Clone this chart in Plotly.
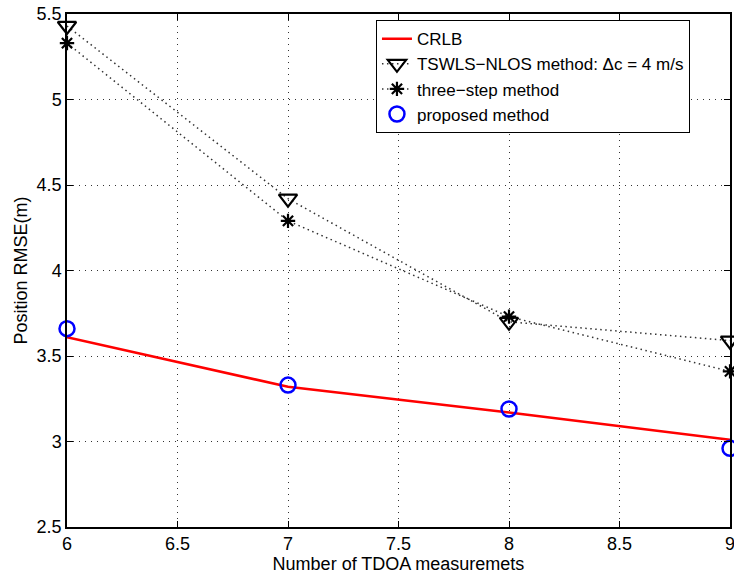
import plotly.graph_objects as go

x_vals = [6, 7, 8, 9]
crlb = [3.61, 3.32, 3.17, 3.01]
tswls = [5.43, 4.42, 3.70, 3.59]
three_step = [5.33, 4.29, 3.73, 3.41]
proposed = [3.66, 3.33, 3.19, 2.96]

x_ticks = [6, 6.5, 7, 7.5, 8, 8.5, 9]
y_ticks = [2.5, 3, 3.5, 4, 4.5, 5, 5.5]

FONT = "Liberation Sans, Arial, Helvetica, sans-serif"
dot_line = dict(color="#333333", width=1.5, dash="1.5px,3.5px")

fig = go.Figure()
fig.add_trace(go.Scatter(x=x_vals, y=crlb, mode="lines", name="CRLB",
                         line=dict(color="red", width=2.5), cliponaxis=False))
fig.add_trace(go.Scatter(x=x_vals, y=tswls, mode="lines+markers",
                         name="TSWLS\u2212NLOS method: \u0394c = 4 m/s",
                         line=dot_line,
                         marker=dict(symbol="triangle-down-open", size=16, color="black",
                                     line=dict(width=2.2, color="black")),
                         cliponaxis=False))
fig.add_trace(go.Scatter(x=x_vals, y=three_step, mode="lines+markers",
                         name="three\u2212step method",
                         line=dot_line,
                         marker=dict(symbol="asterisk-open", size=12, color="black",
                                     line=dict(width=2.2, color="black")),
                         cliponaxis=False))
fig.add_trace(go.Scatter(x=x_vals, y=proposed, mode="markers", name="proposed method",
                         marker=dict(symbol="circle-open", size=15, color="blue",
                                     line=dict(width=2.5, color="blue")),
                         cliponaxis=False))

axis_common = dict(showline=True, linecolor="black", linewidth=1.5, mirror="ticks",
                   ticks="inside", ticklen=6, tickcolor="black", tickwidth=1,
                   showgrid=True, gridcolor="#333333", griddash="1px,5px", gridwidth=1,
                   zeroline=False, automargin=False, ticklabeloverflow="allow",
                   tickfont=dict(size=18, color="black", family=FONT))

fig.update_xaxes(range=[6, 9], tickvals=x_ticks, ticktext=[str(v) for v in x_ticks],
                 ticklabelstandoff=0,
                 title=dict(text="Number of TDOA measuremets", standoff=2,
                            font=dict(size=18, color="black", family=FONT)),
                 **axis_common)
fig.update_yaxes(range=[2.5, 5.5], tickvals=y_ticks, ticktext=[str(v) for v in y_ticks],
                 ticklabelstandoff=0,
                 title=dict(text="Position RMSE(m)", standoff=4,
                            font=dict(size=18, color="black", family=FONT)),
                 **axis_common)

fig.update_layout(
    width=734, height=577,
    margin=dict(l=67, r=4, t=14, b=50),
    plot_bgcolor="white", paper_bgcolor="white",
    font=dict(family=FONT, size=18, color="black"),
    legend=dict(x=0.466, y=0.988, xanchor="left", yanchor="top",
                bgcolor="white", bordercolor="black", borderwidth=1,
                font=dict(size=17, family=FONT), tracegroupgap=0, itemsizing="trace"),
)

fig.write_html("out.html", config={"displayModeBar": False},
               post_script="document.body.style.margin='0';document.body.style.overflow='hidden';")
